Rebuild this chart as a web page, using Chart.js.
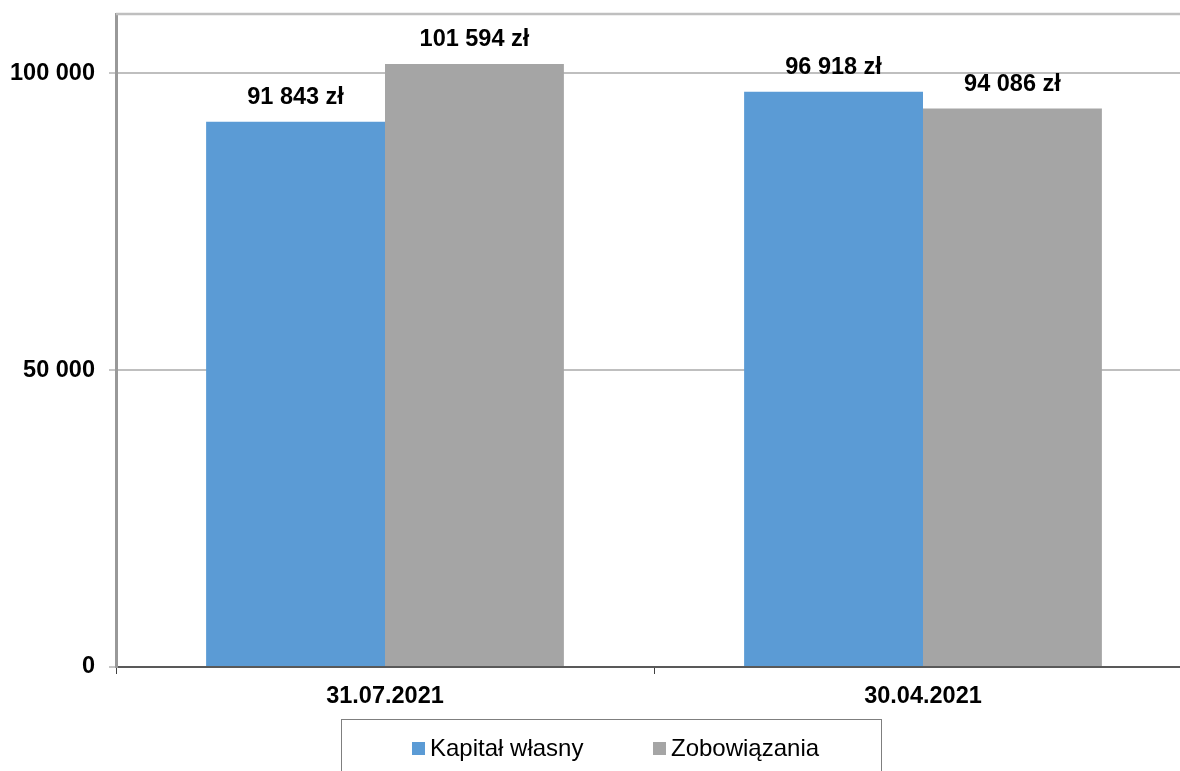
<!DOCTYPE html>
<html lang="pl">
<head>
    <meta charset="UTF-8">
    <title>Kapitał własny i zobowiązania</title>
    <script src="https://cdn.jsdelivr.net/npm/chart.js"></script>
    <style>
        html, body { margin: 0; padding: 0; background: #fff; overflow: hidden; }
        #wrap { position: relative; width: 1180px; height: 771px; overflow: hidden; }
        #chart { position: absolute; left: 0; top: 0; }
        #legend {
            position: absolute; left: 341px; top: 719px; width: 541px; height: 80px;
            border: 1px solid #7f7f7f; box-sizing: border-box;
            font-family: "Liberation Sans", Arial, sans-serif; font-size: 24px; color: #000;
        }
        .item { position: absolute; top: 14px; height: 28px; line-height: 28px; display: flex; align-items: center; }
        .swatch { width: 13px; height: 13px; margin-right: 5px; }
    </style>
</head>
<body>
    <div id="wrap">
        <canvas id="chart" width="1200" height="771"></canvas>
        <div id="legend">
            <div class="item" style="left:70px"><span class="swatch" style="background:#5b9bd5"></span>Kapitał własny</div>
            <div class="item" style="left:311px"><span class="swatch" style="background:#a5a5a5"></span>Zobowiązania</div>
        </div>
    </div>

    <script>
        // Data
        const categories = ['31.07.2021', '30.04.2021'];
        const kapitalWlasny = [91843, 96918];
        const zobowiazania = [101594, 94086];
        const yTicks = [0, 50000, 100000];

        const font = 'Liberation Sans, Arial, sans-serif';

        function plFormat(v) {
            return String(v).replace(/\B(?=(\d{3})+(?!\d))/g, ' ');
        }

        // value labels above bars + top border of plot area
        const barLabels = {
            id: 'barLabels',
            afterDatasetsDraw(chart) {
                const ctx = chart.ctx;
                ctx.save();
                ctx.font = 'bold 23.5px ' + font;
                ctx.fillStyle = '#000';
                ctx.textAlign = 'center';
                ctx.textBaseline = 'middle';
                chart.data.datasets.forEach((ds, i) => {
                    chart.getDatasetMeta(i).data.forEach((bar, j) => {
                        ctx.fillText(plFormat(ds.data[j]) + ' zł', bar.x, bar.y - 24);
                    });
                });
                ctx.restore();
            },
            beforeDatasetsDraw(chart) {
                const a = chart.chartArea;
                const ctx = chart.ctx;
                ctx.save();
                ctx.strokeStyle = '#bfbfbf';
                ctx.lineWidth = 2.5;
                ctx.beginPath();
                ctx.moveTo(a.left, a.top);
                ctx.lineTo(a.right, a.top);
                ctx.stroke();
                ctx.restore();
            }
        };

        new Chart(document.getElementById('chart'), {
            type: 'bar',
            data: {
                labels: categories,
                datasets: [
                    { label: 'Kapitał własny', data: kapitalWlasny, backgroundColor: '#5b9bd5' },
                    { label: 'Zobowiązania', data: zobowiazania, backgroundColor: '#a5a5a5' }
                ]
            },
            options: {
                responsive: false,
                animation: false,
                categoryPercentage: 0.665,
                barPercentage: 1,
                layout: { padding: { top: 14, right: 8, left: 0, bottom: 0 } },
                plugins: {
                    legend: { display: false },
                    tooltip: { enabled: false }
                },
                scales: {
                    x: {
                        afterFit(scale) {
                            scale.height = 104;
                            scale.paddingLeft = 0;
                            scale.paddingRight = 0;
                        },
                        grid: {
                            offset: true,
                            drawOnChartArea: false,
                            tickLength: 7,
                            tickColor: '#404040',
                            tickWidth: 1
                        },
                        border: { color: '#595959', width: 2 },
                        ticks: {
                            color: '#000',
                            padding: 8,
                            font: { family: font, size: 23.5, weight: 'bold' }
                        }
                    },
                    y: {
                        min: 0,
                        max: 110000,
                        afterFit(scale) {
                            scale.width = 116;
                            scale.paddingTop = 0;
                            scale.paddingBottom = 0;
                        },
                        afterBuildTicks(scale) {
                            scale.ticks = yTicks.map(v => ({ value: v }));
                        },
                        grid: {
                            color: '#bfbfbf',
                            lineWidth: 2,
                            tickLength: 7,
                            tickColor: '#8c8c8c',
                            tickWidth: 1
                        },
                        border: { color: '#999999', width: 3 },
                        ticks: {
                            color: '#000',
                            padding: 14,
                            font: { family: font, size: 23.5, weight: 'bold' },
                            callback: v => plFormat(v)
                        }
                    }
                }
            },
            plugins: [barLabels]
        });
    </script>
</body>
</html>
